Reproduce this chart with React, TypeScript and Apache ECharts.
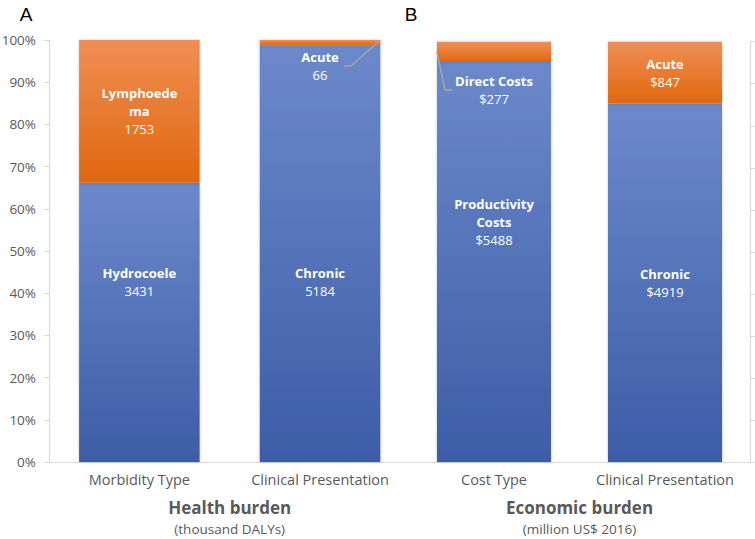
import React, { useEffect, useRef } from 'react';
import * as echarts from 'echarts';

// ---- data ----
const categoriesA = ['Morbidity Type', 'Clinical Presentation'];
const categoriesB = ['Cost Type', 'Clinical Presentation'];

const lowerNamesA = ['Hydrocoele', 'Chronic'];
const upperNamesA = ['Lymphoedema', 'Acute'];
const lowerValuesA = [3431, 5184];
const upperValuesA = [1753, 66];

const lowerNamesB = ['Productivity Costs', 'Chronic'];
const upperNamesB = ['Direct Costs', 'Acute'];
const lowerValuesB = [5488, 4919];
const upperValuesB = [277, 847];

const titleA = 'Health burden';
const unitA = '(thousand DALYs)';
const titleB = 'Economic burden';
const unitB = '(million US$ 2016)';

// how the long names wrap inside the bars (display text)
const wrapped: Record<string, string[]> = {
  Lymphoedema: ['Lymphoede', 'ma'],
  'Productivity Costs': ['Productivity', 'Costs'],
};

// ---- styles ----
const FONT = '"Open Sans", sans-serif';
const AXIS_GRAY = '#D9D9D9';
const TEXT_GRAY = '#595959';
const LEADER_GRAY = '#A6A6A6';
const BAR_FRACTION = 0.667;

const blueGrad = () =>
  new echarts.graphic.LinearGradient(0, 0, 0, 1, [
    { offset: 0, color: '#6B89CA' },
    { offset: 1, color: '#3D5CA7' },
  ]);
const orangeGrad = () =>
  new echarts.graphic.LinearGradient(0, 0, 0, 1, [
    { offset: 0, color: '#F08E55' },
    { offset: 1, color: '#E0670E' },
  ]);

const pct = (a: number[], b: number[]) => a.map((v, i) => (v / (v + b[i])) * 100);

const richText = (name: string, value: number, prefix: string) => {
  const lines = wrapped[name] || [name];
  return lines.map((l) => `{n|${l}}`).join('\n') + `\n{v|${prefix}${value}}`;
};

const labelRich = {
  n: { color: '#fff', fontWeight: 'bold', fontSize: 13, fontFamily: FONT, lineHeight: 18 },
  v: { color: '#fff', fontSize: 13, fontFamily: FONT, lineHeight: 18 },
};

const barShadow = { shadowBlur: 3, shadowColor: 'rgba(0,0,0,0.22)' };

export default function App() {
  const ref = useRef<HTMLDivElement>(null);

  useEffect(() => {
    if (!ref.current) return;
    const chart = echarts.init(ref.current, undefined, { renderer: 'svg' });

    const lowA = pct(lowerValuesA, upperValuesA);
    const upA = pct(upperValuesA, lowerValuesA);
    const lowB = pct(lowerValuesB, upperValuesB);
    const upB = pct(upperValuesB, lowerValuesB);

    const lowOffsetsA = [[0, -40], [0, 28]];
    const lowOffsetsB = [[0, -40], [0, 0]];
    // upper labels that sit outside their thin segment (moved down, with a leader line)
    const upOffsetsA = [[0, 0], [0, 23.5]];
    const upOffsetsB = [[0, 38.5], [0, 0]];

    const xAxisCommon = (data: string[], gridIndex: number, t: string, u: string) => ({
      type: 'category',
      gridIndex,
      data,
      axisLine: { lineStyle: { color: AXIS_GRAY, width: 1 } },
      axisTick: { show: false },
      axisLabel: { color: TEXT_GRAY, fontSize: 14.5, fontFamily: FONT, margin: 10, interval: 0 },
      name: `{t|${t}}\n{s|${u}}`,
      nameLocation: 'middle',
      nameGap: 34,
      nameTextStyle: {
        verticalAlign: 'top',
        rich: {
          t: { fontSize: 17, fontWeight: 'bold', color: TEXT_GRAY, fontFamily: FONT, lineHeight: 22 },
          s: { fontSize: 13.5, color: TEXT_GRAY, fontFamily: FONT, lineHeight: 22 },
        },
      },
    });

    const yAxisCommon = (gridIndex: number, right: boolean) => ({
      type: 'value',
      gridIndex,
      position: right ? 'right' : 'left',
      min: 0,
      max: 100,
      interval: 10,
      axisLine: { show: true, lineStyle: { color: AXIS_GRAY } },
      axisTick: { show: true, length: 5, lineStyle: { color: AXIS_GRAY } },
      splitLine: { show: false },
      axisLabel: right
        ? { show: false }
        : { formatter: '{value}%', color: TEXT_GRAY, fontSize: 13.5, fontFamily: FONT, margin: 13 },
    });

    const barSeries = (
      axis: number,
      stack: string,
      values: number[],
      names: string[],
      raw: number[],
      prefix: string,
      offsets: number[][],
      grad: any,
    ) => ({
      type: 'bar',
      xAxisIndex: axis,
      yAxisIndex: axis,
      stack,
      barWidth: `${BAR_FRACTION * 100}%`,
      itemStyle: { color: grad, ...barShadow },
      data: values.map((v, i) => ({ value: v, label: { offset: offsets[i] } })),
      label: {
        show: true,
        position: 'inside',
        formatter: (p: any) => richText(names[p.dataIndex], raw[p.dataIndex], prefix),
        rich: labelRich,
      },
    });

    // leader line: Acute (panel A, category 1) -> top-right corner of its segment
    const leaderA = {
      type: 'custom',
      xAxisIndex: 0,
      yAxisIndex: 0,
      silent: true,
      z: 5,
      data: [[1, lowA[1] + upA[1]]],
      renderItem: (_p: any, api: any) => {
        const [cx, top] = api.coord([api.value(0), api.value(1)]);
        const half = (api.size([1, 0])[0] * BAR_FRACTION) / 2;
        return {
          type: 'polyline',
          shape: { points: [[cx + 24, top + 26], [cx + 31, top + 26], [cx + half, top]] },
          style: { stroke: LEADER_GRAY, lineWidth: 1.5, fill: null },
        };
      },
    };

    // leader line: Direct Costs (panel B, category 0) -> left edge, middle of its segment
    const leaderB = {
      type: 'custom',
      xAxisIndex: 1,
      yAxisIndex: 1,
      silent: true,
      z: 5,
      data: [[0, lowB[0] + upB[0] / 2, lowB[0] + upB[0]]],
      renderItem: (_p: any, api: any) => {
        const [cx, mid] = api.coord([api.value(0), api.value(1)]);
        const top = api.coord([api.value(0), api.value(2)])[1];
        const half = (api.size([1, 0])[0] * BAR_FRACTION) / 2;
        return {
          type: 'polyline',
          shape: { points: [[cx - 42, top + 48.5], [cx - 49, top + 48.5], [cx - half, mid]] },
          style: { stroke: LEADER_GRAY, lineWidth: 1.5, fill: null },
        };
      },
    };

    const option: any = {
      animation: false,
      backgroundColor: '#fff',
      grid: [
        { left: 49, right: 344.6, top: 40, bottom: 77, containLabel: false, outerBoundsMode: 'none' },
        { left: 408.5, right: 4.5, top: 41.7, bottom: 77, containLabel: false, outerBoundsMode: 'none' },
      ],
      xAxis: [xAxisCommon(categoriesA, 0, titleA, unitA), xAxisCommon(categoriesB, 1, titleB, unitB)],
      yAxis: [yAxisCommon(0, false), yAxisCommon(1, true)],
      series: [
        barSeries(0, 'A', lowA, lowerNamesA, lowerValuesA, '', lowOffsetsA, blueGrad()),
        barSeries(0, 'A', upA, upperNamesA, upperValuesA, '', upOffsetsA, orangeGrad()),
        barSeries(1, 'B', lowB, lowerNamesB, lowerValuesB, '$', lowOffsetsB, blueGrad()),
        barSeries(1, 'B', upB, upperNamesB, upperValuesB, '$', upOffsetsB, orangeGrad()),
        leaderA,
        leaderB,
      ],
      graphic: [
        {
          type: 'text',
          x: 26,
          y: 14,
          style: { text: 'A', fontSize: 19, fontFamily: '"Liberation Sans", Arial, sans-serif', fill: '#000', align: 'center', verticalAlign: 'middle' },
        },
        {
          type: 'text',
          x: 411,
          y: 14,
          style: { text: 'B', fontSize: 19, fontFamily: '"Liberation Sans", Arial, sans-serif', fill: '#000', align: 'center', verticalAlign: 'middle' },
        },
      ],
    };

    chart.setOption(option);
    return () => chart.dispose();
  }, []);

  return (
    <div
      ref={ref}
      style={{ position: 'fixed', left: 0, top: 0, width: 755, height: 539, background: '#fff' }}
    />
  );
}
